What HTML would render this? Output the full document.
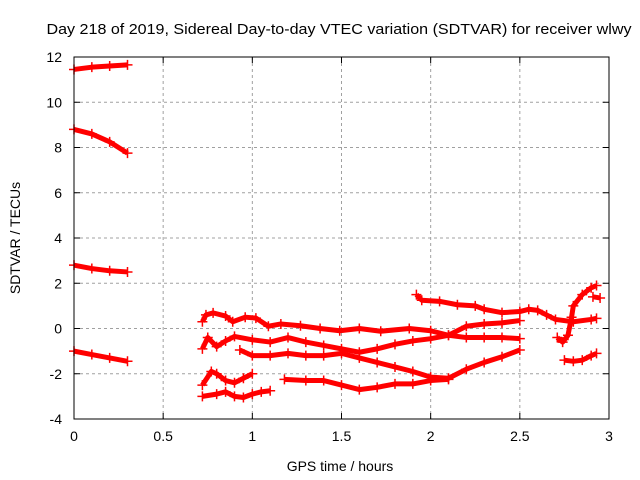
<!DOCTYPE html>
<html><head><meta charset="utf-8"><style>
body{margin:0;background:#fff}
svg{display:block;font-family:"Liberation Sans",sans-serif}
</style></head><body>
<svg id="c" width="640" height="480">
<rect width="640" height="480" fill="#fff"/>
<text x="339" y="34" font-size="15" textLength="585" lengthAdjust="spacingAndGlyphs" text-anchor="middle">Day 218 of 2019, Sidereal Day-to-day VTEC variation (SDTVAR) for receiver wlwy</text>
<text x="340" y="471" font-size="14" text-anchor="middle">GPS time / hours</text>
<text transform="translate(20,238) rotate(-90)" font-size="14" text-anchor="middle">SDTVAR / TECUs</text>
<g id="grid"></g><g id="ticks"></g><g id="series"></g>
<rect x="74" y="57" width="535" height="362" fill="none" stroke="#000"/>
</svg>
<script>
const xTicks=[0,0.5,1,1.5,2,2.5,3];
const xTickLabels=["0","0.5","1","1.5","2","2.5","3"];
const yTicks=[-4,-2,0,2,4,6,8,10,12];
const yTickLabels=["-4","-2","0","2","4","6","8","10","12"];
const s1=[[0,11.45],[0.1,11.55],[0.2,11.6],[0.3,11.65]];
const s2=[[0,8.8],[0.1,8.6],[0.2,8.25],[0.3,7.75]];
const s3=[[0,2.8],[0.1,2.65],[0.2,2.55],[0.3,2.5]];
const s4=[[0,-1.0],[0.1,-1.15],[0.2,-1.3],[0.3,-1.45]];
const sA=[[0.72,0.3],[0.74,0.6],[0.78,0.69],[0.85,0.55],[0.89,0.3],[0.96,0.5],[1.02,0.46],[1.09,0.1],[1.16,0.2],[1.27,0.12],[1.38,0.0],[1.49,-0.1],[1.6,0.0],[1.72,-0.12],[1.88,0.0],[2.0,-0.1],[2.1,-0.3],[2.2,-0.4],[2.3,-0.4],[2.4,-0.4],[2.5,-0.45]];
const sB=[[0.72,-0.9],[0.75,-0.4],[0.8,-0.8],[0.85,-0.55],[0.9,-0.35],[1.0,-0.5],[1.1,-0.6],[1.2,-0.4],[1.3,-0.6],[1.4,-0.75],[1.5,-0.9],[1.6,-1.05],[1.7,-0.9],[1.8,-0.7],[1.9,-0.55],[2.0,-0.45],[2.1,-0.3],[2.2,0.1],[2.3,0.2],[2.4,0.25],[2.5,0.35]];
const sC=[[0.93,-0.95],[1.0,-1.2],[1.1,-1.2],[1.2,-1.1],[1.3,-1.2],[1.4,-1.2],[1.5,-1.1],[1.6,-1.3],[1.7,-1.5],[1.8,-1.7],[1.9,-1.9],[2.0,-2.15],[2.1,-2.2],[2.2,-1.8],[2.3,-1.5],[2.4,-1.25],[2.5,-0.95]];
const sD=[[0.72,-2.5],[0.77,-1.9],[0.8,-2.0],[0.85,-2.3],[0.9,-2.4],[0.95,-2.2],[1.0,-2.0]];
const sE=[[1.18,-2.25],[1.3,-2.3],[1.4,-2.3],[1.5,-2.5],[1.6,-2.7],[1.7,-2.6],[1.8,-2.45],[1.9,-2.45],[2.0,-2.3],[2.1,-2.25]];
const sF=[[0.72,-3.0],[0.8,-2.9],[0.85,-2.8],[0.9,-3.0],[0.95,-3.05],[1.0,-2.9],[1.05,-2.8],[1.1,-2.75]];
const sG=[[1.92,1.5],[1.95,1.25],[2.05,1.2],[2.15,1.05],[2.25,1.0],[2.3,0.85],[2.4,0.7],[2.5,0.75],[2.55,0.85],[2.6,0.8],[2.65,0.6],[2.7,0.4],[2.8,0.3],[2.9,0.4],[2.93,0.45]];
const sH=[[2.71,-0.4],[2.74,-0.6],[2.77,-0.3],[2.79,0.5],[2.8,1.0],[2.85,1.5],[2.9,1.8],[2.93,1.9]];
const sI=[[2.75,-1.4],[2.8,-1.45],[2.85,-1.4],[2.9,-1.2],[2.93,-1.1]];
const sJ=[[2.91,1.4],[2.95,1.35]];
const allSeries=[s1,s2,s3,s4,sA,sB,sC,sD,sE,sF,sG,sH,sI,sJ];
const NS="http://www.w3.org/2000/svg";
const X=v=>74+v*(535/3);
const Y=v=>328.5-v*(362/16);
const g=document.getElementById('grid'),t=document.getElementById('ticks'),s=document.getElementById('series');
function mk(tag,a,p){const e=document.createElementNS(NS,tag);for(const k in a)e.setAttribute(k,a[k]);p.appendChild(e);return e;}
xTicks.forEach((v,i)=>{
 if(i>0&&i<xTicks.length-1){const l=mk('line',{x1:X(v),x2:X(v),y1:57,y2:419,stroke:'#a0a0a0','stroke-dasharray':'3,3'},g);
 
 }
 mk('line',{x1:X(v),x2:X(v),y1:419,y2:413,stroke:'#000'},t);
 mk('line',{x1:X(v),x2:X(v),y1:57,y2:63,stroke:'#000'},t);
 const tx=mk('text',{x:X(v),y:441,'font-size':14,'text-anchor':'middle'},t);tx.textContent=xTickLabels[i];
 
 
});
yTicks.forEach((v,i)=>{
 if(i>0&&i<yTicks.length-1){const l=mk('line',{x1:74,x2:609,y1:Y(v),y2:Y(v),stroke:'#a0a0a0','stroke-dasharray':'3,3'},g);
 
 }
 mk('line',{x1:74,x2:80,y1:Y(v),y2:Y(v),stroke:'#000'},t);
 mk('line',{x1:603,x2:609,y1:Y(v),y2:Y(v),stroke:'#000'},t);
 const tx=mk('text',{x:62,y:Y(v)+5,'font-size':14,'text-anchor':'end'},t);tx.textContent=yTickLabels[i];
 
 
});
allSeries.forEach((ser,k)=>{
 const grp=mk('g',{},s);
 
 
 mk('polyline',{points:ser.map(p=>X(p[0])+','+Y(p[1])).join(' '),fill:'none',stroke:'#f00','stroke-width':5,'stroke-linejoin':'round'},grp);
 ser.forEach(p=>{
  const m=mk('path',{d:`M${X(p[0])-5},${Y(p[1])}h10M${X(p[0])},${Y(p[1])-5}v10`,stroke:'#f00','stroke-width':1.5},grp);
  
  
 });
});
</script>
</body></html>
